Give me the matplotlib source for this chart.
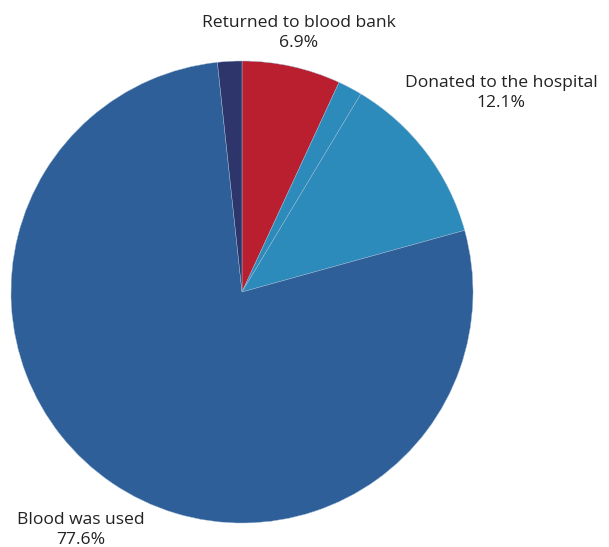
import matplotlib.pyplot as plt

# anteile im uhrzeigersinn ab 12 uhr
namen = ["Returned to blood bank", "", "Donated to the hospital", "Blood was used", ""]
werte = [6.9, 1.7, 12.1, 77.6, 1.7]
farben = ["#B91F2E", "#2C8BBA", "#2C8BBA", "#2E5F99", "#2D356B"]

# beschriftungen (pixel, von oben gemessen)
beschriftung_pos = {0: (299, 33), 2: (501, 93), 3: (81, 530)}

B, H = 609, 547
fig = plt.figure(figsize=(B / 100, H / 100), dpi=100)
ax = fig.add_axes([0, 0, 1, 1])

ax.pie(werte, colors=farben, startangle=90, counterclock=False,
       center=(242, H - 292), radius=231,
       wedgeprops=dict(edgecolor="#9fbcd6", linewidth=0.3))

for i, (x, y) in beschriftung_pos.items():
    ax.text(x, H - y, f"{namen[i]}\n{werte[i]}%", ha="center", va="center",
            fontsize=12.6, family="Open Sans", color="#222222", linespacing=1.3)

ax.set_xlim(0, B)
ax.set_ylim(0, H)
ax.set_aspect("equal")
ax.axis("off")

fig.savefig("out.png", dpi=100)
